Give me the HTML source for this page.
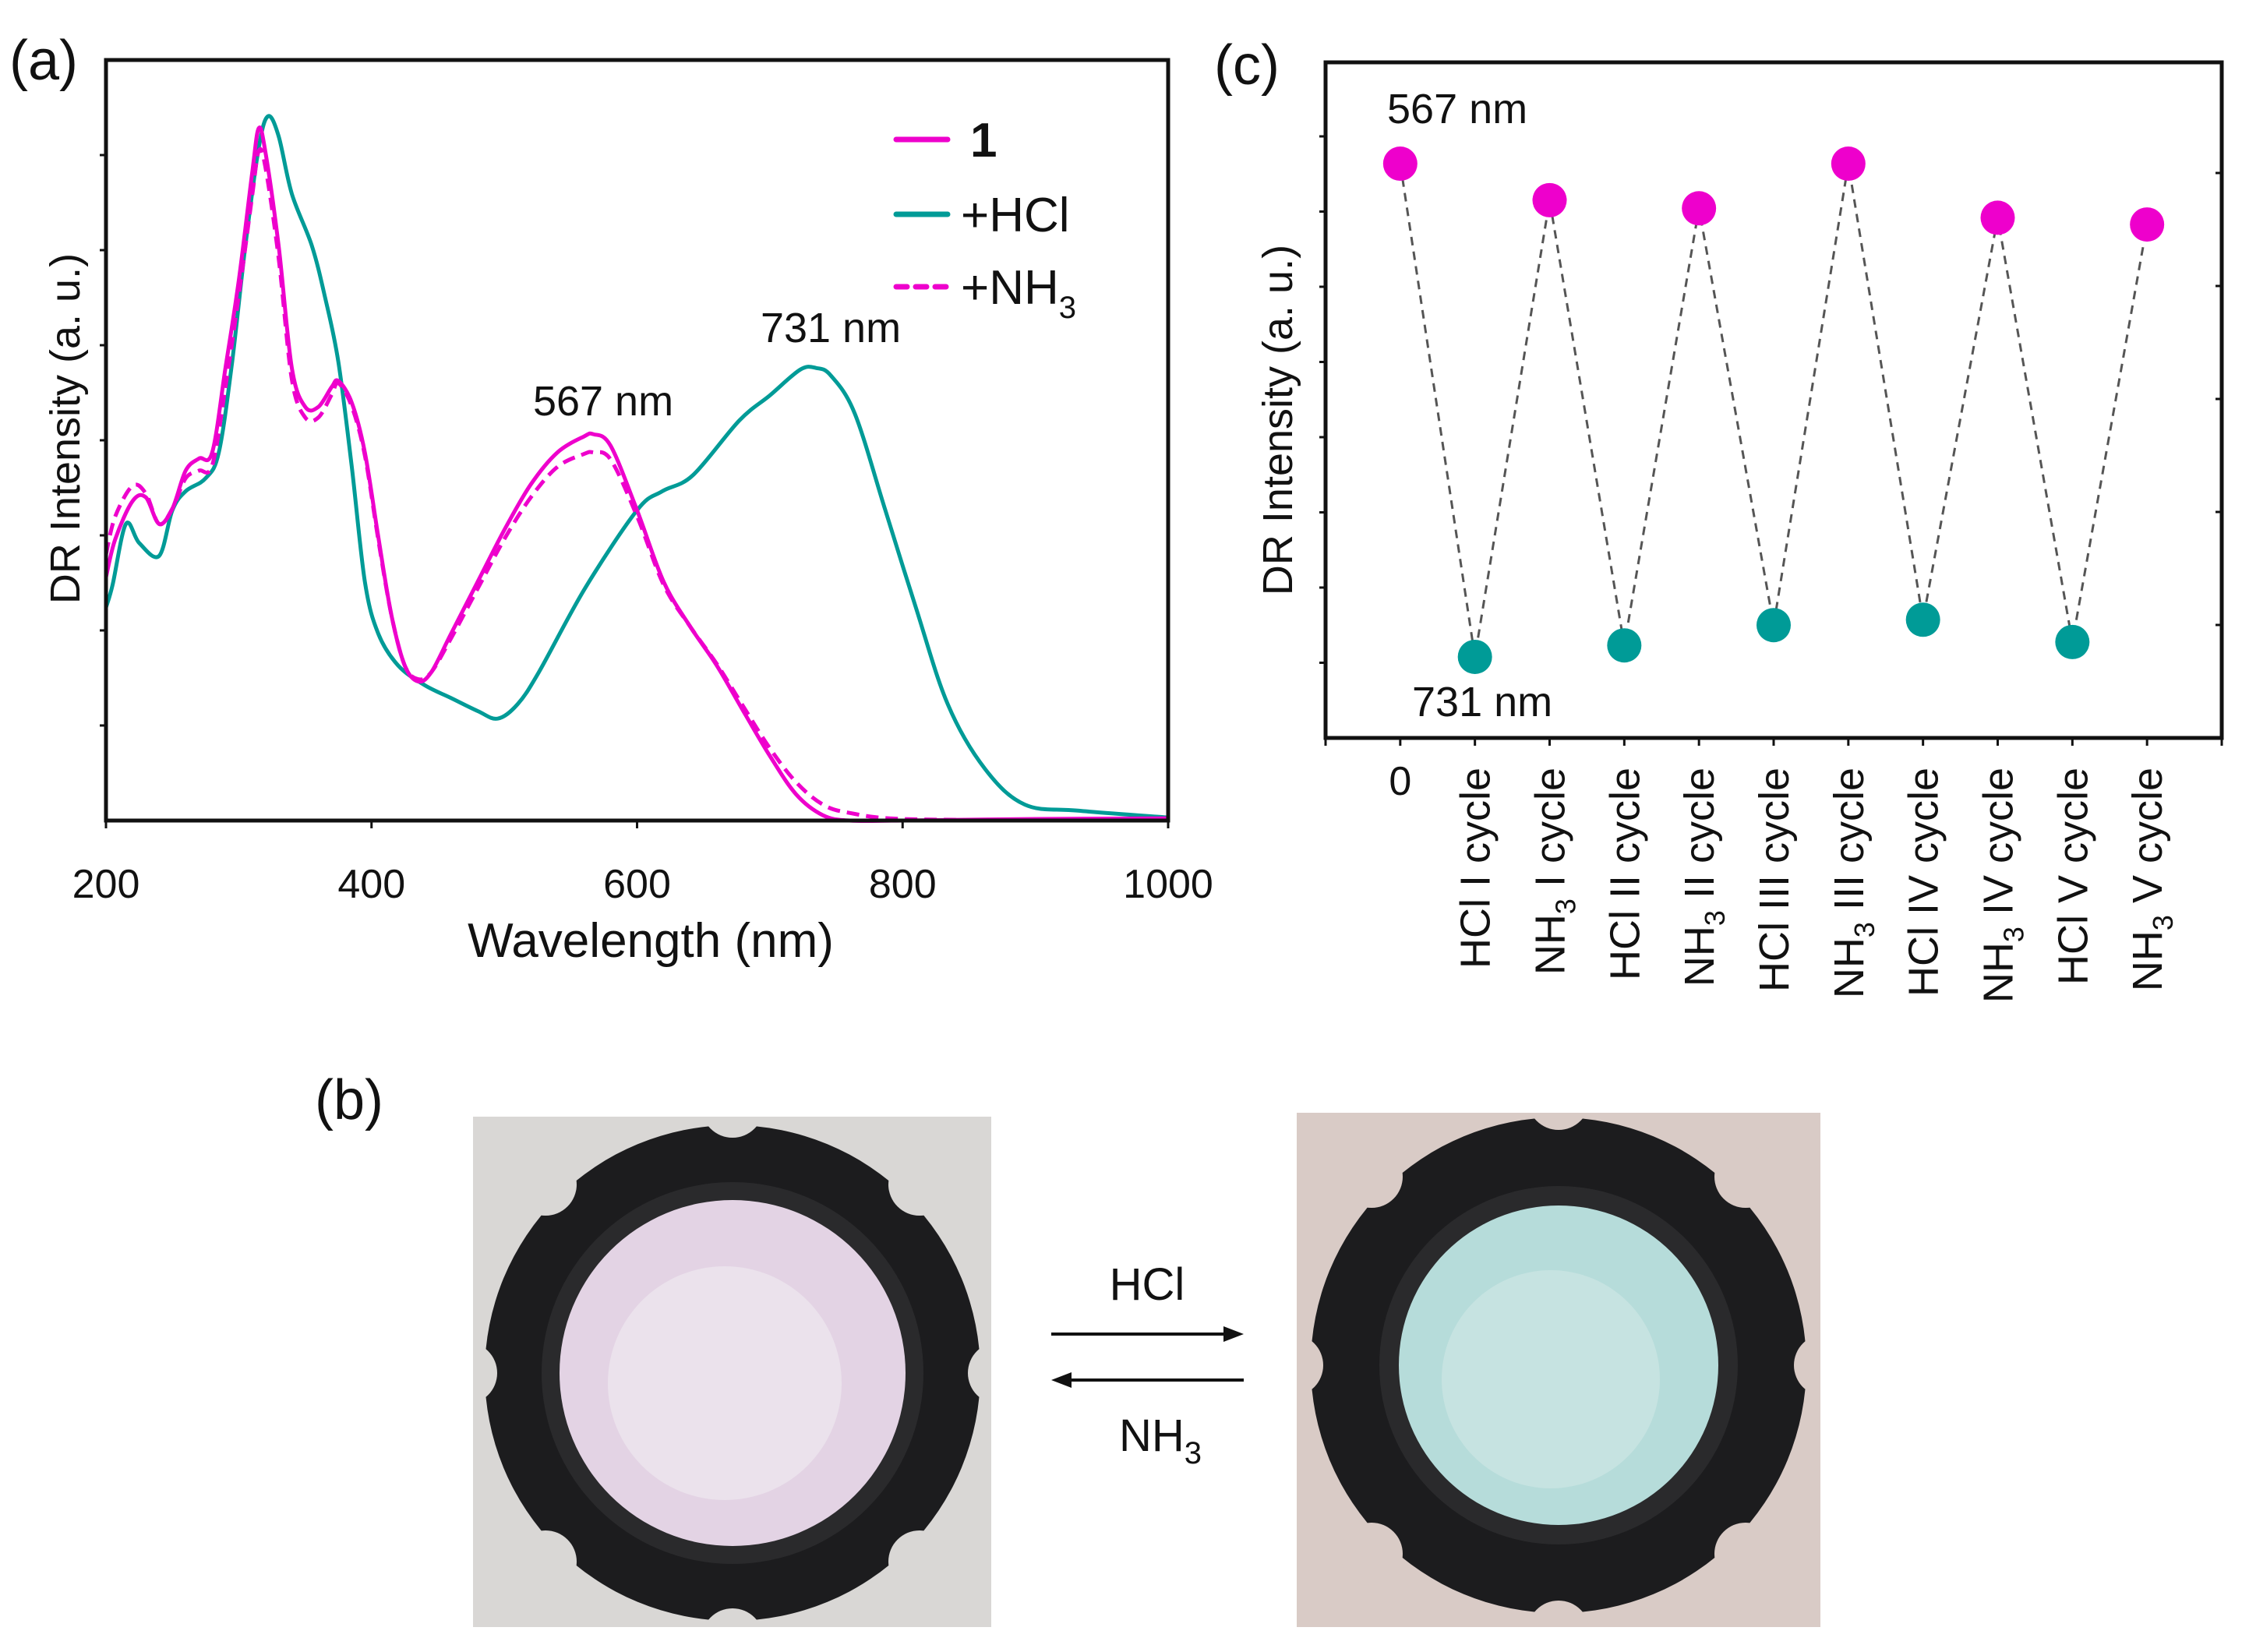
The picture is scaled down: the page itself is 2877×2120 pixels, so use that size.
<!DOCTYPE html>
<html><head><meta charset="utf-8"><style>
html,body{margin:0;padding:0;background:#fff}
svg{display:block}
text{font-family:"Liberation Sans",sans-serif;fill:#111}
</style></head><body>
<svg id="fig" width="2877" height="2120" viewBox="0 0 2877 2120" xmlns="http://www.w3.org/2000/svg">
<defs>
<clipPath id="clipL"><rect x="607" y="1433" width="665" height="655"/></clipPath>
<clipPath id="clipR"><rect x="1664" y="1428" width="672" height="660"/></clipPath>
</defs>
<g id="pa"></g>
<g id="pc"></g>
<g id="pb">
  <text x="448" y="1436" font-size="72" text-anchor="middle">(b)</text>
  <g clip-path="url(#clipL)">
    <rect x="607" y="1433" width="665" height="655" fill="#d9d7d5"/>
    <circle cx="940" cy="1762" r="318" fill="#1c1c1e"/>
    <g fill="#d9d7d5"><circle cx="940" cy="1420" r="40"/><circle cx="1180" cy="1520" r="40"/><circle cx="1282" cy="1762" r="40"/><circle cx="1180" cy="2004" r="40"/><circle cx="940" cy="2104" r="40"/><circle cx="700" cy="2004" r="40"/><circle cx="598" cy="1762" r="40"/><circle cx="700" cy="1520" r="40"/></g>
    <circle cx="940" cy="1762" r="245" fill="#2a2a2c"/>
    <circle cx="940" cy="1762" r="222" fill="#e3d3e4"/>
    <circle cx="930" cy="1775" r="150" fill="#ebe2ec"/>
  </g>
  <g clip-path="url(#clipR)">
    <rect x="1664" y="1428" width="672" height="660" fill="#d9cbc6"/>
    <circle cx="2000" cy="1752" r="318" fill="#1c1c1e"/>
    <g fill="#d9cbc6"><circle cx="2000" cy="1410" r="40"/><circle cx="2240" cy="1510" r="40"/><circle cx="2342" cy="1752" r="40"/><circle cx="2240" cy="1994" r="40"/><circle cx="2000" cy="2094" r="40"/><circle cx="1760" cy="1994" r="40"/><circle cx="1658" cy="1752" r="40"/><circle cx="1760" cy="1510" r="40"/></g>
    <circle cx="2000" cy="1752" r="230" fill="#2a2a2c"/>
    <circle cx="2000" cy="1752" r="205" fill="#b6dcda"/>
    <circle cx="1990" cy="1770" r="140" fill="#c6e3e1"/>
  </g>
  <g>
    <line x1="1349" y1="1712" x2="1580" y2="1712" stroke="#111" stroke-width="4"/>
    <polygon points="1596,1712 1570,1702 1570,1722" fill="#111"/>
    <line x1="1365" y1="1771" x2="1596" y2="1771" stroke="#111" stroke-width="4"/>
    <polygon points="1349,1771 1375,1761 1375,1781" fill="#111"/>
    <text x="1472" y="1668" font-size="58" text-anchor="middle">HCl</text>
    <text x="1436" y="1862" font-size="58">NH<tspan font-size="40" dy="16">3</tspan></text>
  </g>
</g>
</svg>
<script>
// ---- Panel (a) data ----
const wl1 = [200,207,220,230,240,250,260,270,280,290,300,310,315,320,330,340,350,360,370,375,385,395,405,415,425,435,445,460,480,500,520,540,560,567,580,600,620,640,660,680,700,720,740,760,800,900,1000];
const int1 = [32,37,42,42.5,39,41,46,47.6,48.4,59.5,71,85,91,88,75.6,59.5,54.4,54.4,57,57.8,55,48.4,37.4,27,20.4,18.3,19.5,24.6,31.4,38.2,44.2,48.4,50.5,50.8,49.3,40.8,31.4,25.5,20.4,14.4,8.5,3.4,0.7,0,0,0.2,0.3];
const wlHCl = [200,205,215,225,240,250,260,275,285,295,305,315,322,330,340,355,365,375,385,395,405,420,440,460,480,495,510,526,561,600,619,642,677,700,723,735,746,764,787,810,834,862,892,932,1000];
const intHCl = [28,31,39,36.5,34.8,40.8,43.3,45,48.4,60.3,75.6,88.4,92.6,90,82.4,75.6,68.8,60.3,46.7,31.4,24.6,20.4,17.8,16.1,14.4,13.4,15.3,19.5,30.6,40.8,43.3,45.4,52.6,55.9,59.3,59.5,58.5,53.5,40.8,28,15.3,6.8,2.1,1.3,0.4];
const wlNH3 = [200,207,220,230,240,250,260,270,280,290,300,310,315,320,330,340,350,360,370,375,385,395,405,415,425,435,445,460,480,500,520,540,560,567,580,600,620,640,660,680,700,720,740,760,800,900,1000];
const intNH3 = [35,40,44,43,39,41,45,46,46.7,57,69,82,88,86,74,58,53,53,56,57.5,54.5,48,37,27,20.4,18.6,19.5,24,30.5,37,42.5,46.5,48.2,48.4,47.5,40,31,25.5,20.6,15,9.5,5,2.1,1,0.2,0.1,0.1];
const xTicksA = [200,400,600,800,1000];

// ---- Panel (c) data ----
const cats = ["0","HCl I cycle","NH3 I cycle","HCl II cycle","NH3 II cycle","HCl III cycle","NH3 III cycle","HCl IV cycle","NH3 IV cycle","HCl V cycle","NH3 V cycle"];
const cycleVals = [85,12,79.6,13.7,78.4,16.7,85,17.5,77,14.2,76];

const NS="http://www.w3.org/2000/svg";
function mk(parent,tag,attrs){const e=document.createElementNS(NS,tag);for(const k in attrs)e.setAttribute(k,attrs[k]);parent.appendChild(e);return e;}

const A={l:136,r:1499,t:77,b:1053};
const xA=w=>A.l+(w-200)/800*(A.r-A.l);
const yA=v=>A.b-v/100*(A.b-A.t);
function smooth(pts){let d=`M${pts[0][0]},${pts[0][1]}`;for(let i=0;i<pts.length-1;i++){const p0=pts[Math.max(0,i-1)],p1=pts[i],p2=pts[i+1],p3=pts[Math.min(pts.length-1,i+2)];const c1=[p1[0]+(p2[0]-p0[0])/6,p1[1]+(p2[1]-p0[1])/6],c2=[p2[0]-(p3[0]-p1[0])/6,p2[1]-(p3[1]-p1[1])/6];d+=` C${c1[0].toFixed(1)},${c1[1].toFixed(1)} ${c2[0].toFixed(1)},${c2[1].toFixed(1)} ${p2[0].toFixed(1)},${p2[1].toFixed(1)}`;}return d;}
const pa=document.getElementById('pa');
const ca=mk(pa,'text',{x:12,y:102,'font-size':72});ca.textContent='(a)';


const series=[[wlHCl,intHCl,'#009b97',null,'hcl-curve'],[wl1,int1,'#ee00cc',null,'compound-1-curve'],[wlNH3,intNH3,'#ee00cc','16,9','nh3-curve']];
series.forEach(s=>{const pts=s[0].map((w,i)=>[xA(w),yA(s[1][i])]);const p=mk(pa,'path',{d:smooth(pts),fill:'none',stroke:s[2],'stroke-width':5,'stroke-linejoin':'round'});if(s[3])p.setAttribute('stroke-dasharray',s[3]);

});
const fa=mk(pa,'rect',{x:A.l,y:A.t,width:A.r-A.l,height:A.b-A.t,fill:'none',stroke:'#111','stroke-width':5});


for(let i=1;i<8;i++){const y=A.b-i*122;mk(pa,'line',{x1:A.l-8,x2:A.l,y1:y,y2:y,stroke:'#111','stroke-width':3});}
xTicksA.forEach(t=>{mk(pa,'line',{x1:xA(t),x2:xA(t),y1:A.b,y2:A.b+10,stroke:'#111','stroke-width':3});const tx=mk(pa,'text',{x:xA(t),y:1152,'font-size':52,'text-anchor':'middle'});tx.textContent=t;

});
const xt=mk(pa,'text',{x:835,y:1228,'font-size':62,'text-anchor':'middle'});xt.textContent='Wavelength (nm)';


const yt=mk(pa,'text',{x:0,y:0,'font-size':54,'text-anchor':'middle',transform:'translate(102,550) rotate(-90)'});yt.textContent='DR Intensity (a. u.)';


const an1=mk(pa,'text',{x:774,y:533,'font-size':54,'text-anchor':'middle'});an1.textContent='567 nm';


const an2=mk(pa,'text',{x:1066,y:439,'font-size':54,'text-anchor':'middle'});an2.textContent='731 nm';


const leg=[[179,'#ee00cc',null,'1'],[275,'#009b97',null,'+HCl'],[368,'#ee00cc','16,9','+NH']];
leg.forEach((L,i)=>{const g=mk(pa,'g',{});


const ln=mk(g,'line',{x1:1150,x2:1216,y1:L[0],y2:L[0],stroke:L[1],'stroke-width':7,'stroke-linecap':'round'});if(L[2])ln.setAttribute('stroke-dasharray','14,11');
const t=mk(g,'text',{x:i==0?1245:1233,y:L[0]+22,'font-size':62});if(i==0){t.setAttribute('font-weight','bold');t.textContent='1';}else if(i==1){t.textContent='+HCl';}else{t.textContent='+NH';const ts=mk(t,'tspan',{'font-size':40,dy:18});ts.textContent='3';}});

const C={l:1701,r:2851,t:80,b:947};
const xC=i=>C.l+(i+1)/12*(C.r-C.l);
const yC=v=>C.b-v/100*(C.b-C.t);
const pc=document.getElementById('pc');
const cc=mk(pc,'text',{x:1558,y:108,'font-size':72});cc.textContent='(c)';


const pts=cycleVals.map((v,i)=>`${xC(i)},${yC(v)}`).join(' ');
const pl=mk(pc,'polyline',{points:pts,fill:'none',stroke:'#555','stroke-width':3,'stroke-dasharray':'11,8'});


cycleVals.forEach((v,i)=>{const c=mk(pc,'circle',{cx:xC(i),cy:yC(v),r:22,fill:i%2==0?'#ee00cc':'#009b97'});

});
const fc=mk(pc,'rect',{x:C.l,y:C.t,width:C.r-C.l,height:C.b-C.t,fill:'none',stroke:'#111','stroke-width':5});


for(let i=1;i<9;i++){const y=C.b-i*96.5;mk(pc,'line',{x1:C.l-8,x2:C.l,y1:y,y2:y,stroke:'#111','stroke-width':3});}
for(let i=1;i<6;i++){const y=C.b-i*145;mk(pc,'line',{x1:C.r-8,x2:C.r,y1:y,y2:y,stroke:'#111','stroke-width':3});}
for(let i=-1;i<=11;i++){mk(pc,'line',{x1:xC(i),x2:xC(i),y1:C.b,y2:C.b+10,stroke:'#111','stroke-width':3});}
cats.forEach((c,i)=>{let t;
if(i==0){t=mk(pc,'text',{x:xC(i),y:1020,'font-size':52,'text-anchor':'middle'});t.textContent=c;}
else{t=mk(pc,'text',{x:0,y:0,'font-size':54,'text-anchor':'end',transform:`translate(${xC(i)+19},985) rotate(-90)`});
if(c.startsWith('NH3')){t.textContent='NH';const s=mk(t,'tspan',{'font-size':36,dy:14});s.textContent='3';const r=mk(t,'tspan',{dy:-14});r.textContent=c.slice(3);}else t.textContent=c;}

});
const yt2=mk(pc,'text',{x:0,y:0,'font-size':54,'text-anchor':'middle',transform:'translate(1658,539) rotate(-90)'});yt2.textContent='DR Intensity (a. u.)';


const l1=mk(pc,'text',{x:1780,y:158,'font-size':54});l1.textContent='567 nm';


const l2=mk(pc,'text',{x:1812,y:919,'font-size':54});l2.textContent='731 nm';


</script>
</body></html>
